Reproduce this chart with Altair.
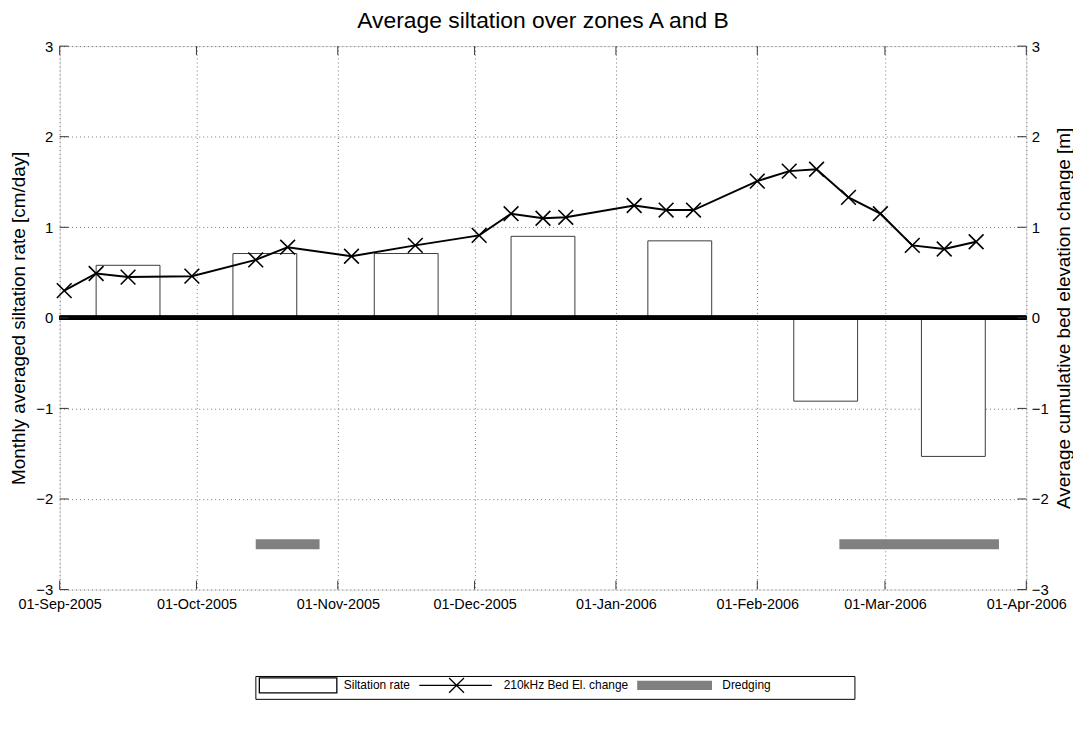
import altair as alt
import pandas as pd

# ---------------- data ----------------
line_dates = ["2005-09-02", "2005-09-09", "2005-09-16", "2005-09-30", "2005-10-14", "2005-10-21",
              "2005-11-04", "2005-11-18", "2005-12-02", "2005-12-09", "2005-12-16", "2005-12-21",
              "2006-01-05", "2006-01-12", "2006-01-18", "2006-02-01", "2006-02-08", "2006-02-14",
              "2006-02-21", "2006-02-28", "2006-03-07", "2006-03-14", "2006-03-21"]
line_values = [0.30, 0.49, 0.45, 0.46, 0.64, 0.78, 0.68, 0.80, 0.91, 1.15, 1.10, 1.11,
               1.24, 1.19, 1.19, 1.51, 1.62, 1.64, 1.33, 1.15, 0.80, 0.76, 0.84]

bar_start = ["2005-09-09", "2005-10-09", "2005-11-09", "2005-12-09", "2006-01-08", "2006-02-09", "2006-03-09"]
bar_end = ["2005-09-23", "2005-10-23", "2005-11-23", "2005-12-23", "2006-01-22", "2006-02-23", "2006-03-23"]
bar_values = [0.58, 0.71, 0.71, 0.90, 0.85, -0.92, -1.53]

dredge_start = ["2005-10-14", "2006-02-19"]
dredge_end = ["2005-10-28", "2006-03-26"]
dredge_level = [-2.5, -2.5]

month_ticks = ["2005-09-01", "2005-10-01", "2005-11-01", "2005-12-01",
               "2006-01-01", "2006-02-01", "2006-03-01", "2006-04-01"]
y_ticks = [-3, -2, -1, 0, 1, 2, 3]

legend_labels = ["Siltation rate", "210kHz Bed El. change", "Dredging"]

title_text = "Average siltation over zones A and B"
left_title = "Monthly averaged siltation rate [cm/day]"
right_title = "Average cumulative bed elevation change [m]"

# ---------------- frames ----------------
def loc(d):
    return d + "T00:00:00"

line_df = pd.DataFrame({"date": [loc(d) for d in line_dates], "value": line_values})
bar_df = pd.DataFrame({"start": [loc(d) for d in bar_start], "end": [loc(d) for d in bar_end],
                       "value": bar_values})
dredge_df = pd.DataFrame({"start": [loc(d) for d in dredge_start], "end": [loc(d) for d in dredge_end],
                          "level": dredge_level})
mtick_df = pd.DataFrame({"date": [loc(d) for d in month_ticks]})
ytick_df = pd.DataFrame({"v": y_ticks})
legend_df = pd.DataFrame({"series": legend_labels})

FONT = "Liberation Sans"
W, H = 973, 547

def dt(s):
    y, m, d = s.split("-")
    return alt.DateTime(year=int(y), month=int(m), date=int(d))

x_scale = alt.Scale(domain=[dt(month_ticks[0]), dt(month_ticks[-1])])
x_axis = alt.Axis(values=[dt(s) for s in month_ticks], format="%d-%b-%Y", title=None,
                  grid=True, gridDash=[1, 3], gridColor="#777777", gridWidth=1,
                  ticks=False, domain=False, labelFlush=False, labelOverlap=False,
                  labelFontSize=14.5, labelPadding=8, labelFont=FONT, labelColor="black")

y_scale = alt.Scale(domain=[-3, 3], nice=False, zero=False)
yl_axis = alt.Axis(values=y_ticks, format="d", title=left_title, orient="left",
                   grid=True, gridDash=[1, 3], gridColor="#777777", gridWidth=1,
                   ticks=False, domain=False, labelFontSize=15, labelPadding=7,
                   titleFontSize=19, titleFontWeight="normal", titlePadding=7,
                   labelFont=FONT, titleFont=FONT, labelColor="black", titleColor="black")
yr_axis = alt.Axis(values=y_ticks, format="d", title=right_title, orient="right",
                   grid=False, ticks=False, domain=False, labelFontSize=15, labelPadding=5,
                   titleFontSize=19, titleFontWeight="normal", titlePadding=6,
                   titleAngle=270, titleBaseline="top",
                   labelFont=FONT, titleFont=FONT, labelColor="black", titleColor="black")

# ---------------- left (siltation rate) ----------------
bars = alt.Chart(bar_df).mark_bar(fill="white", stroke="#3a3a3a", strokeWidth=1).encode(
    x=alt.X("start:T", scale=x_scale, axis=x_axis),
    x2="end:T",
    y=alt.Y("value:Q", scale=y_scale, axis=yl_axis),
    y2=alt.Y2(datum=0),
)

dredge = alt.Chart(dredge_df).mark_rule(color="#808080", strokeWidth=10).encode(
    x=alt.X("start:T", scale=x_scale, axis=x_axis),
    x2="end:T",
    y=alt.Y("level:Q", scale=y_scale, axis=yl_axis),
)

zero = alt.Chart(ytick_df).mark_rule(color="black", strokeWidth=4).encode(
    y=alt.Y(datum=0, scale=y_scale, axis=yl_axis),
)

shape_paths = [
    "M-1,-1.5H14.6V1.5H-1Z",
    "M-1,0H13.6M5,-1.5L8,1.5M5,1.5L8,-1.5",
    "M-1,-0.8H13.8V0.8H-1ZM-1,-1.5M-1,1.5",
]
pad_blank = "\u2800" * 9
leg = alt.Legend(title=None, orient="none", legendX=197, legendY=634, direction="horizontal",
                 symbolSize=100, symbolStrokeWidth=1.3, labelFontSize=12, labelFont=FONT,
                 labelColor="black", labelOffset=74, columnPadding=6, padding=3, labelLimit=400,
                 strokeColor="black", fillColor="white", symbolOpacity=1,
                 labelExpr="datum.label == 'Dredging' ? datum.label + '" + pad_blank + "' : datum.label")

legend_layer = alt.Chart(legend_df).mark_point(filled=True, opacity=1, clip=True).encode(
    y=alt.value(-300),
    fill=alt.Fill("series:N", scale=alt.Scale(domain=legend_labels,
                                               range=["white", "transparent", "#808080"]), legend=leg),
    stroke=alt.Stroke("series:N", scale=alt.Scale(domain=legend_labels,
                                                   range=["black", "black", "#808080"]), legend=leg),
    shape=alt.Shape("series:N", scale=alt.Scale(domain=legend_labels, range=shape_paths), legend=leg),
)

tick_col = "#333333"
xt_bottom = alt.Chart(mtick_df).mark_rule(color=tick_col, strokeWidth=1).encode(
    x=alt.X("date:T", scale=x_scale, axis=x_axis), y=alt.value(H), y2=alt.value(H - 9))
xt_top = alt.Chart(mtick_df).mark_rule(color=tick_col, strokeWidth=1).encode(
    x=alt.X("date:T", scale=x_scale, axis=x_axis), y=alt.value(0), y2=alt.value(9))
yt_left = alt.Chart(ytick_df).mark_rule(color=tick_col, strokeWidth=1).encode(
    y=alt.Y("v:Q", scale=y_scale, axis=yl_axis), x=alt.value(0), x2=alt.value(9))
yt_right = alt.Chart(ytick_df).mark_rule(color=tick_col, strokeWidth=1).encode(
    y=alt.Y("v:Q", scale=y_scale, axis=yl_axis), x=alt.value(W - 9), x2=alt.value(W))

left = alt.layer(bars, dredge, zero, legend_layer, xt_bottom, xt_top, yt_left, yt_right)

# ---------------- right (bed elevation) ----------------
line = alt.Chart(line_df).mark_line(color="black", strokeWidth=2).encode(
    x=alt.X("date:T", scale=x_scale, axis=x_axis),
    y=alt.Y("value:Q", scale=y_scale, axis=yr_axis),
)
pts = alt.Chart(line_df).mark_point(shape="M-1,-1L1,1M-1,1L1,-1", size=220, filled=False,
                                    color="black", strokeWidth=1.6, opacity=1).encode(
    x=alt.X("date:T", scale=x_scale, axis=x_axis),
    y=alt.Y("value:Q", scale=y_scale, axis=yr_axis),
)
right = alt.layer(line, pts)

chart = alt.layer(left, right).resolve_scale(y="independent").properties(
    width=W, height=H,
    title=alt.TitleParams(title_text, fontSize=23, fontWeight="normal", font=FONT, color="black",
                          anchor="middle", frame="group", offset=6),
    autosize=alt.AutoSizeParams(type="none"),
    padding={"left": 52, "top": 36, "right": 47, "bottom": 140},
).configure_view(stroke="#333333", strokeWidth=1).configure(background="white")

chart.save("out.html", embed_options={"renderer": "svg", "actions": False})
